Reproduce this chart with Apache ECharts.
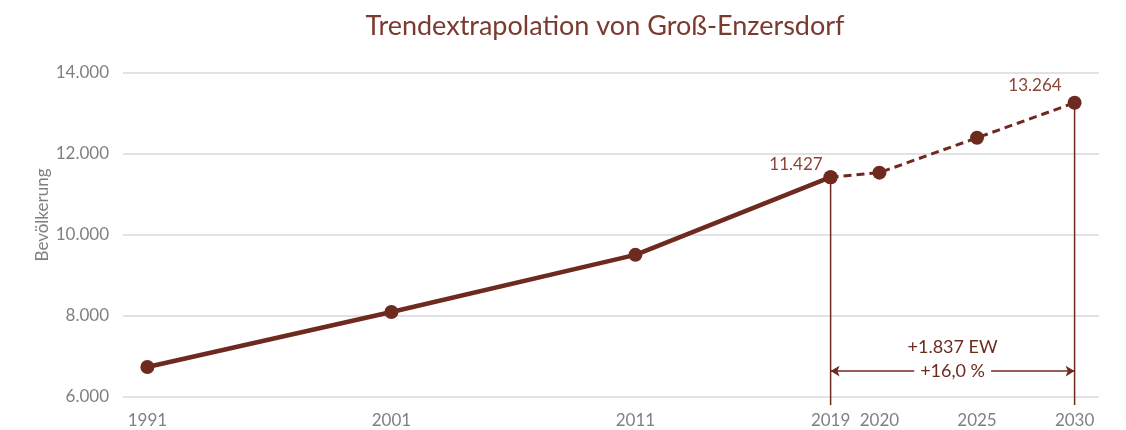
<!DOCTYPE html>
<html>
<head>
<meta charset="utf-8">
<title>Trendextrapolation von Groß-Enzersdorf</title>
<script src="https://cdn.jsdelivr.net/npm/echarts@6/dist/echarts.min.js"></script>
<style>
	html, body { margin: 0; padding: 0; background: #fff; }
	#chart { width: 1126px; height: 430px; }
</style>
</head>
<body>
<div id="chart"></div>
<script>
// Jahre und ihr Platz auf der (ungleichmäßigen) Excel-Achse
const years = [1991, 2001, 2011, 2019, 2020, 2025, 2030];
const slots = [0, 10, 20, 28, 30, 34, 38];
const bevoelkerung = [6740, 8100, 9510, 11427, 11540, 12400, 13264];
const yTicks = [6000, 8000, 10000, 12000, 14000];
const basisIdx = 3; // 2019, letzter Messwert
const zielIdx = 6;  // 2030
const diffText = ['+1.837 EW', '+16,0 %'];

const brown = '#6F2A1F';
const labelBrown = '#8B4537';
const grey = '#808080';
const font = 'Lato';

function fmt(n) {
	return String(n).replace(/\B(?=(\d{3})+(?!\d))/g, '.');
}

function yearOf(slot) {
	let i = slots.indexOf(slot);
	return i >= 0 ? String(years[i]) : '';
}

let solid = [];
for (let i = 0; i <= basisIdx; i++) {
	let item = { value: [slots[i], bevoelkerung[i]] };
	if (i == basisIdx) {
		item.label = { show: true, position: 'left', distance: 0, offset: [-1, -13] };
	}
	solid.push(item);
}

let dashed = [];
for (let i = basisIdx; i <= zielIdx; i++) {
	let item = { value: [slots[i], bevoelkerung[i]] };
	if (i == zielIdx) {
		item.label = { show: true, position: 'left', distance: 0, offset: [-6, -17] };
	}
	dashed.push(item);
}

// senkrechte Hilfslinien 2019 und 2030, etwas unter die Achse gezogen
const lineBottom = 5800;
function vLine(idx) {
	return {
		type: 'line',
		data: [[slots[idx], bevoelkerung[idx]], [slots[idx], lineBottom]],
		clip: false,
		symbol: 'none',
		silent: true,
		lineStyle: { color: brown, width: 1.5 },
		z: 1
	};
}

const midSlot = (slots[basisIdx] + slots[zielIdx]) / 2;
const arrowY = 6640;
const ewY = 7240;

let option = {
	animation: false,
	textStyle: { fontFamily: font },
	title: {
		text: 'Trendextrapolation von Groß-Enzersdorf',
		left: 600,
		textAlign: 'center',
		top: 8,
		textStyle: { color: '#7A3A30', fontSize: 27, fontWeight: 'normal', fontFamily: font }
	},
	grid: { left: 123, right: 27, top: 73, bottom: 33 },
	xAxis: {
		type: 'value',
		min: -1,
		max: 39,
		axisLine: { show: false },
		axisTick: { show: false },
		splitLine: { show: false },
		axisLabel: {
			customValues: slots,
			formatter: yearOf,
			color: grey,
			fontSize: 17,
			margin: 15,
			fontFamily: font
		}
	},
	yAxis: {
		type: 'value',
		min: yTicks[0],
		max: yTicks[yTicks.length - 1],
		interval: 2000,
		name: 'Bevölkerung',
		nameLocation: 'middle',
		nameGap: 72,
		nameMoveOverlap: false,
		nameTextStyle: { color: grey, fontSize: 17, fontFamily: font, padding: [0, 0, 0, 40] },
		axisLine: { show: false },
		axisTick: { show: false },
		splitLine: { lineStyle: { color: '#d9d9d9', width: 1.5 } },
		axisLabel: { color: grey, fontSize: 17, margin: 14, formatter: fmt, fontFamily: font }
	},
	series: [
		vLine(basisIdx),
		vLine(zielIdx),
		{
			type: 'line',
			data: solid,
			symbol: 'circle',
			symbolSize: 14,
			lineStyle: { color: brown, width: 4.5 },
			itemStyle: { color: brown },
			label: { color: labelBrown, fontSize: 17, fontFamily: font, formatter: p => fmt(p.value[1]) },
			z: 3
		},
		{
			type: 'line',
			data: dashed,
			symbol: 'circle',
			symbolSize: 14,
			lineStyle: { color: brown, width: 3, type: [8, 5] },
			itemStyle: { color: brown },
			label: { color: labelBrown, fontSize: 17, fontFamily: font, formatter: p => fmt(p.value[1]) },
			z: 2,
			markLine: {
				silent: true,
				animation: false,
				data: [
					[
						{
							coord: [slots[basisIdx], arrowY],
							symbol: 'arrow',
							symbolSize: [8, 9],
							label: {
								show: true,
								position: 'middle',
								formatter: diffText[1],
								color: brown,
								fontSize: 18,
								fontFamily: font,
								backgroundColor: '#fff',
								padding: [0, 6],
								distance: -9
							}
						},
						{ coord: [slots[zielIdx], arrowY], symbol: 'arrow', symbolSize: [8, 9] }
					]
				],
				lineStyle: { color: brown, width: 1.5, type: 'solid' },
				label: { show: false }
			},
			markPoint: {
				silent: true,
				symbol: 'circle',
				symbolSize: 0,
				data: [{ coord: [midSlot, ewY] }],
				label: {
					show: true,
					position: 'inside',
					formatter: diffText[0],
					color: brown,
					fontSize: 18,
					fontFamily: font
				}
			}
		}
	]
};

var myChart = echarts.init(document.getElementById('chart'));
myChart.setOption(option);
</script>
</body>
</html>
